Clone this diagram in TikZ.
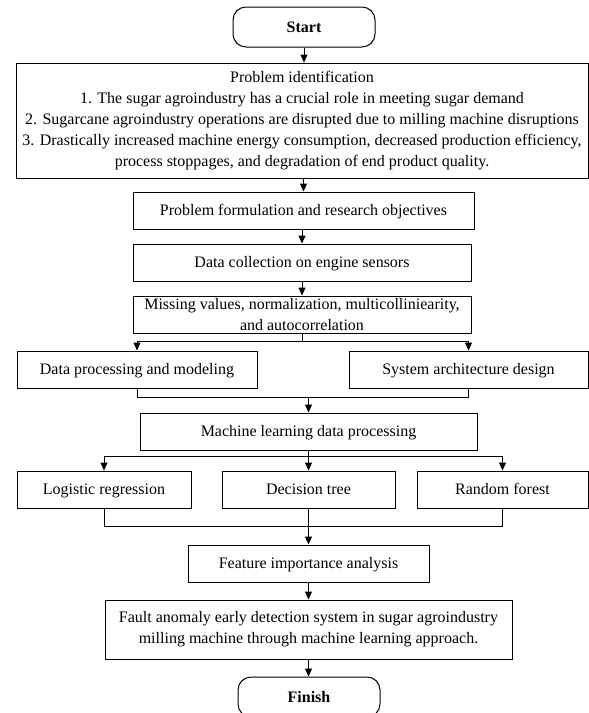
\documentclass[tikz,border=0pt]{standalone}
\usepackage{fontspec}
\setmainfont{Liberation Serif}
\usetikzlibrary{arrows.meta}

\begin{document}
\begin{tikzpicture}[x = 1pt, y = -1pt, line width = 1pt,
 font = \fontsize{16}{21}\selectfont,
 box/.style = {draw, inner sep = 0pt, align = center, minimum height = 37pt},
 one/.style = {box, text height = 11.5pt, text depth = 1.5pt},
 term/.style = {draw, rounded corners = 13pt, minimum width = 142pt, minimum height = 40pt, text height = 11.5pt, text depth = 1.5pt, font = \fontsize{16}{21}\selectfont\bfseries},
 arr/.style = {-{Triangle[length = 8pt, width = 7pt]}}]
\useasboundingbox (0,0) rectangle (589,713);
\clip (0,0) rectangle (589,713);
\node[term] (st) at (304,27) {Start};
\node[box, minimum width = 572pt, minimum height = 115pt] (pi) at (302,120.5) {Problem identification\\
 1. The sugar agroindustry has a crucial role in meeting sugar demand\\
 2. Sugarcane agroindustry operations are disrupted due to milling machine disruptions\\
 3. Drastically increased machine energy consumption, decreased production efficiency,\\
 process stoppages, and degradation of end product quality.};
\node[one, minimum width = 341pt] (pf) at (303.5,210.5) {Problem formulation and research objectives};
\node[one, minimum width = 338pt] (dc) at (302,262.5) {Data collection on engine sensors};
\node[box, minimum width = 338pt] (mv) at (302,314.5) {Missing values, normalization, multicolliniearity,\\ and autocorrelation};
\node[one, minimum width = 240pt] (dp) at (137,369.5) {Data processing and modeling};
\node[one, minimum width = 239pt] (sa) at (468.5,369.5) {System architecture design};
\node[one, minimum width = 337pt] (ml) at (308.5,431.5) {Machine learning data processing};
\node[one, minimum width = 174pt] (lr) at (104,489.5) {Logistic regression};
\node[one, minimum width = 173pt] (dt) at (308.5,489.5) {Decision tree};
\node[one, minimum width = 171pt] (rf) at (502.5,489.5) {Random forest};
\node[one, minimum width = 241pt] (fi) at (308.5,563.5) {Feature importance analysis};
\node[box, minimum width = 407pt, minimum height = 59pt] (fd) at (308.5,629.5) {Fault anomaly early detection system in sugar agroindustry\\ milling machine through machine learning approach.};
\node[term] (fn) at (309,697) {Finish};
\coordinate (b1) at ([yshift = -8pt]mv.south);
\coordinate (m1) at ([yshift = 15pt]ml.north);
\coordinate (b2) at ([yshift = -6pt]ml.south);
\coordinate (m2) at ([yshift = 18pt]fi.north);
\draw[arr] (st.south) -- (st.south |- pi.north);
\draw[arr] (pf.north |- pi.south) -- (pf.north);
\draw[arr] (dc.north |- pf.south) -- (dc.north);
\draw[arr] (dc.south) -- (mv.north);
\draw (mv.south) -- (b1);
\draw[arr] (b1) -| (dp.north);
\draw[arr] (b1) -| (sa.north);
\draw (dp.south) |- (m1) -| (sa.south);
\draw[arr] (m1) -- (ml.north);
\draw (ml.south) -- (b2);
\draw[arr] (b2) -| (lr.north);
\draw[arr] (b2) -- (dt.north);
\draw[arr] (b2) -| (rf.north);
\draw (lr.south) |- (m2) -| (rf.south);
\draw[arr] (dt.south) -- (fi.north);
\draw[arr] (fi.south) -- (fd.north);
\draw[arr] (fd.south) -- (fd.south |- fn.north);
\end{tikzpicture}
\end{document}
